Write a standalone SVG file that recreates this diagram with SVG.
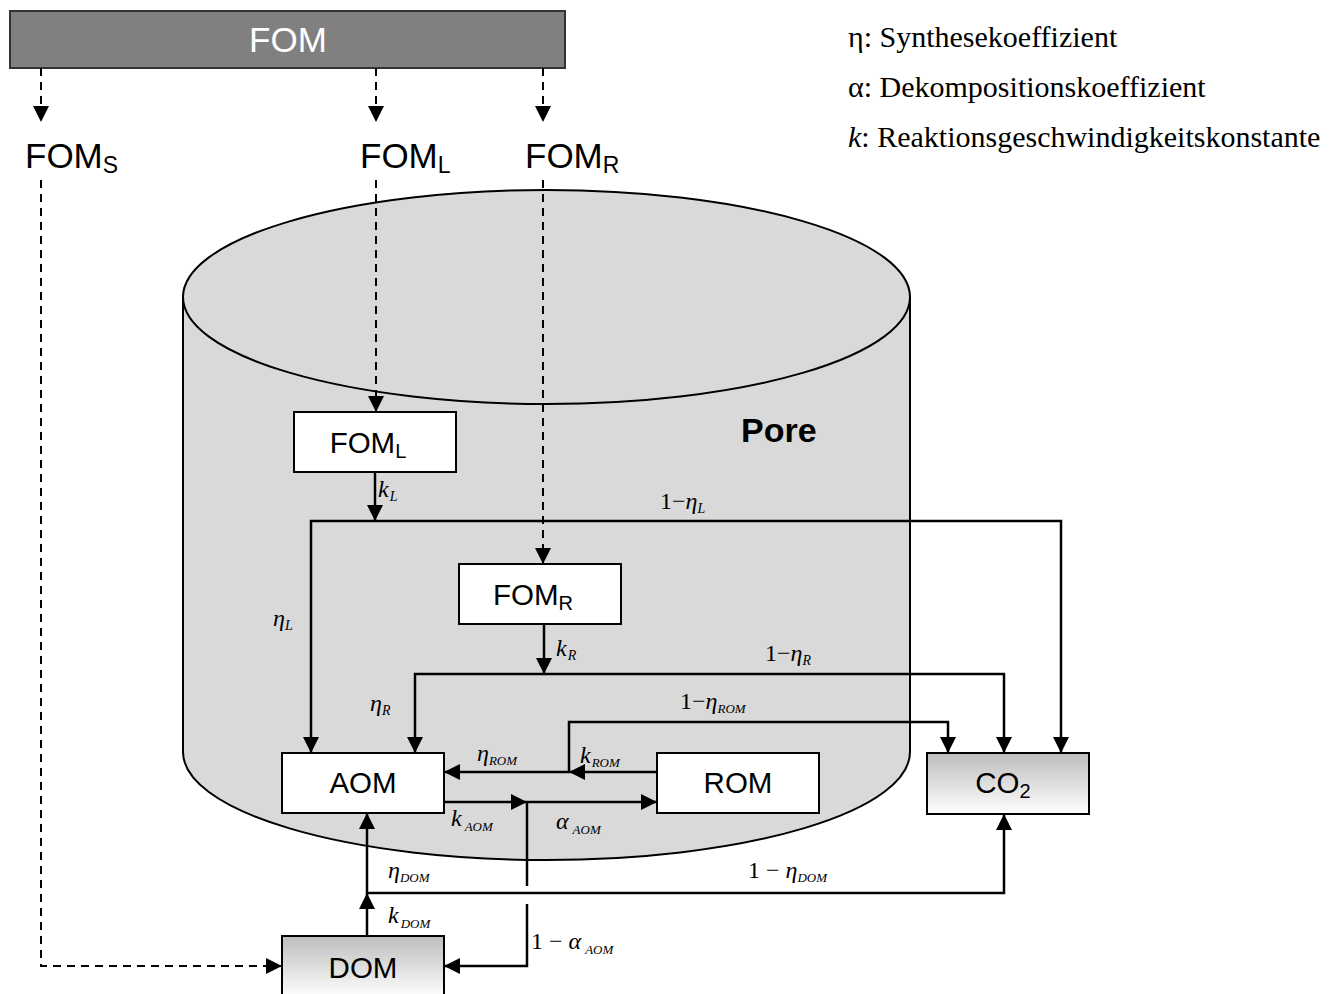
<svg xmlns="http://www.w3.org/2000/svg" width="1338" height="994" viewBox="0 0 1338 994">
<style>
.ln{fill:none;stroke:#000;stroke-width:2.5}
.ds{fill:none;stroke:#000;stroke-width:2;stroke-dasharray:8,6}
.box{fill:#fff;stroke:#000;stroke-width:2}
.gbox{fill:url(#grad);stroke:#000;stroke-width:2}
.lbl{font-family:"Liberation Sans",Arial,sans-serif;font-size:29.5px;text-anchor:middle}
.big{font-family:"Liberation Sans",Arial,sans-serif;font-size:35px}
.m{font-family:"Liberation Serif","Times New Roman",serif;font-size:24px;font-style:italic}
.up{font-style:normal}
.leg{font-family:"Liberation Serif","Times New Roman",serif;font-size:30px}
</style>
<defs>
<linearGradient id="grad" x1="0" y1="0" x2="0" y2="1">
<stop offset="0" stop-color="#bdbdbd"/>
<stop offset="1" stop-color="#ffffff"/>
</linearGradient>
<marker id="ah" markerUnits="userSpaceOnUse" markerWidth="16" markerHeight="16" refX="14" refY="7" orient="auto" viewBox="0 0 14 14">
<path d="M0,0 L14,7 L0,14 z" fill="#000"/>
</marker>
</defs>
<rect width="1338" height="994" fill="#fff"/>

<g id="pore">
<path d="M183,297 V752 A363.5,108 0 0 0 910,752 V297 Z" fill="#d9d9d9" stroke="#000" stroke-width="2"/>
<ellipse cx="546.5" cy="297" rx="363.5" ry="107" fill="#d9d9d9" stroke="#000" stroke-width="2"/>
<text x="741" y="442" font-family="Liberation Sans,Arial,sans-serif" font-size="34" font-weight="bold">Pore</text>
</g>

<g id="fom">
<rect x="10" y="11" width="555" height="57" fill="#808080" stroke="#333" stroke-width="2"/>
<text x="288" y="52" class="big" fill="#fff" text-anchor="middle">FOM</text>
</g>
<g id="fom-s-label"><text x="25" y="168" class="big">FOM<tspan font-size="23" dy="5">S</tspan></text></g>
<g id="fom-l-label"><text x="360" y="168" class="big">FOM<tspan font-size="23" dy="5">L</tspan></text></g>
<g id="fom-r-label"><text x="525" y="168" class="big">FOM<tspan font-size="23" dy="5">R</tspan></text></g>

<g id="legend" class="leg">
<text x="848" y="47">η: Synthesekoeffizient</text>
<text x="848" y="97">α: Dekompositionskoeffizient</text>
<text x="848" y="147"><tspan font-style="italic">k</tspan>: Reaktionsgeschwindigkeitskonstante</text>
</g>

<g id="connectors">
<path class="ds" d="M41,68 V122" marker-end="url(#ah)"/>
<path class="ds" d="M376,68 V122" marker-end="url(#ah)"/>
<path class="ds" d="M543,68 V122" marker-end="url(#ah)"/>
<path class="ds" d="M41,180 V966 H282" marker-end="url(#ah)"/>
<path class="ds" d="M376,180 V412" marker-end="url(#ah)"/>
<path class="ds" d="M543,180 V564" marker-end="url(#ah)"/>

<path class="ln" d="M375,472 V521" marker-end="url(#ah)"/>
<path class="ln" d="M375,521 H311 V753" marker-end="url(#ah)"/>
<path class="ln" d="M375,521 H1061 V753" marker-end="url(#ah)"/>

<path class="ln" d="M544,624 V674" marker-end="url(#ah)"/>
<path class="ln" d="M544,674 H415 V753" marker-end="url(#ah)"/>
<path class="ln" d="M544,674 H1004 V753" marker-end="url(#ah)"/>

<path class="ln" d="M657,772 H569" marker-end="url(#ah)"/>
<path class="ln" d="M569,772 H444" marker-end="url(#ah)"/>
<path class="ln" d="M569,772 V722 H948 V753" marker-end="url(#ah)"/>

<path class="ln" d="M444,802 H527" marker-end="url(#ah)"/>
<path class="ln" d="M527,802 H657" marker-end="url(#ah)"/>
<path class="ln" d="M527,802 V886"/>
<path class="ln" d="M527,904 V966 H444" marker-end="url(#ah)"/>

<path class="ln" d="M367,936 V893" marker-end="url(#ah)"/>
<path class="ln" d="M367,893 V813" marker-end="url(#ah)"/>
<path class="ln" d="M367,893 H1004 V814" marker-end="url(#ah)"/>
</g>

<g id="node-foml"><rect class="box" x="294" y="412" width="162" height="60"/><text class="lbl" x="368" y="453">FOM<tspan font-size="20" dy="5">L</tspan></text></g>
<g id="node-fomr"><rect class="box" x="459" y="564" width="162" height="60"/><text class="lbl" x="533" y="605">FOM<tspan font-size="20" dy="5">R</tspan></text></g>
<g id="node-aom"><rect class="box" x="282" y="753" width="162" height="60"/><text class="lbl" x="363" y="793">AOM</text></g>
<g id="node-rom"><rect class="box" x="657" y="753" width="162" height="60"/><text class="lbl" x="738" y="793">ROM</text></g>
<g id="node-co2"><rect class="gbox" x="927" y="753" width="162" height="61"/><text class="lbl" x="1003" y="793">CO<tspan font-size="20" dy="5">2</tspan></text></g>
<g id="node-dom"><rect class="gbox" x="282" y="936" width="162" height="62"/><text class="lbl" x="363" y="978">DOM</text></g>

<g id="labels" class="m">
<text x="378" y="497">k<tspan font-size="14" dy="4" dx="1">L</tspan></text>
<text x="660" y="509"><tspan class="up">1−</tspan>η<tspan font-size="14" dy="4">L</tspan></text>
<text x="273" y="626">η<tspan font-size="14" dy="4">L</tspan></text>
<text x="556" y="656">k<tspan font-size="14" dy="4" dx="1">R</tspan></text>
<text x="765" y="661"><tspan class="up">1−</tspan>η<tspan font-size="14" dy="4">R</tspan></text>
<text x="370" y="711">η<tspan font-size="14" dy="4">R</tspan></text>
<text x="680" y="709"><tspan class="up">1−</tspan>η<tspan font-size="13" dy="4">ROM</tspan></text>
<text x="477" y="761">η<tspan font-size="13" dy="4">ROM</tspan></text>
<text x="580" y="763">k<tspan font-size="13" dy="4" dx="1">ROM</tspan></text>
<text x="451" y="826">k<tspan font-size="13" dy="5" dx="3">AOM</tspan></text>
<text x="556" y="829">α<tspan font-size="13" dy="5" dx="4">AOM</tspan></text>
<text x="388" y="878">η<tspan font-size="13" dy="4">DOM</tspan></text>
<text x="748" y="878"><tspan class="up">1 − </tspan>η<tspan font-size="13" dy="4">DOM</tspan></text>
<text x="388" y="923">k<tspan font-size="13" dy="5" dx="2">DOM</tspan></text>
<text x="531" y="949"><tspan class="up">1 − </tspan>α<tspan font-size="13" dy="5" dx="4">AOM</tspan></text>
</g>
</svg>
